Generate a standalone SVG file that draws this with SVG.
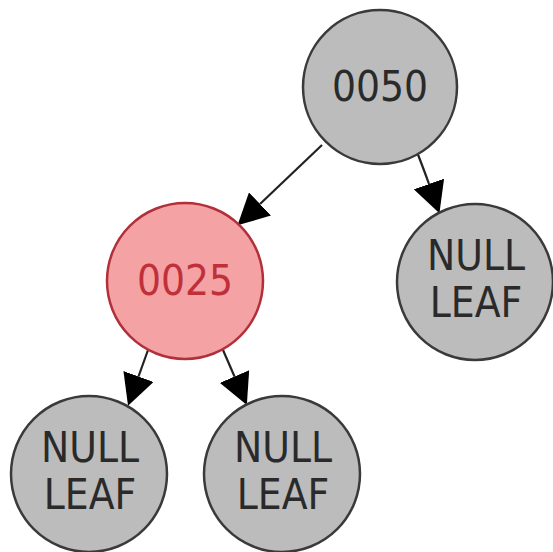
<svg xmlns="http://www.w3.org/2000/svg" width="553" height="552" viewBox="0 0 553 552">
<style>
.node circle{fill:#bcbcbc;stroke:#3a3a3a;stroke-width:2.5}
.node text{font-family:"DejaVu Sans Condensed","DejaVu Sans",sans-serif;font-size:42px;fill:#2a2a2a;text-anchor:middle}
.node.red circle{fill:#f5a2a5;stroke:#b2303a}
.node.red text{fill:#c0303a}
.edge{fill:none;stroke:#222;stroke-width:2.2;marker-end:url(#arrow)}
</style>
<defs>
<marker id="arrow" markerUnits="userSpaceOnUse" viewBox="0 -16 32 32" refX="0" refY="0" markerWidth="32" markerHeight="32" orient="auto">
<path d="M0,-16 L31,0 L0,16 Z" fill="#000"/>
</marker>
</defs>
<rect width="553" height="552" fill="#fff"/>
<g id="connectors">
<path class="edge" d="M322,145 L260,204"/>
<path class="edge" d="M417,152 Q424,170 429,184"/>
<path class="edge" d="M148,350 L138.5,376.5"/>
<path class="edge" d="M223,350 L234.5,376.5"/>
</g>
<g id="n0050" class="node"><circle cx="380" cy="87" r="77"/><text x="380" y="101">0050</text></g>
<g id="n0025" class="node red"><circle cx="185" cy="281" r="78"/><text x="185" y="295">0025</text></g>
<g id="leafR" class="node"><circle cx="475" cy="282" r="78"/><text x="476" y="270">NULL</text><text x="476" y="317">LEAF</text></g>
<g id="leafL" class="node"><circle cx="89" cy="474" r="78"/><text x="90" y="462">NULL</text><text x="90" y="509">LEAF</text></g>
<g id="leafM" class="node"><circle cx="282" cy="474" r="78"/><text x="283" y="462">NULL</text><text x="283" y="509">LEAF</text></g>
</svg>
